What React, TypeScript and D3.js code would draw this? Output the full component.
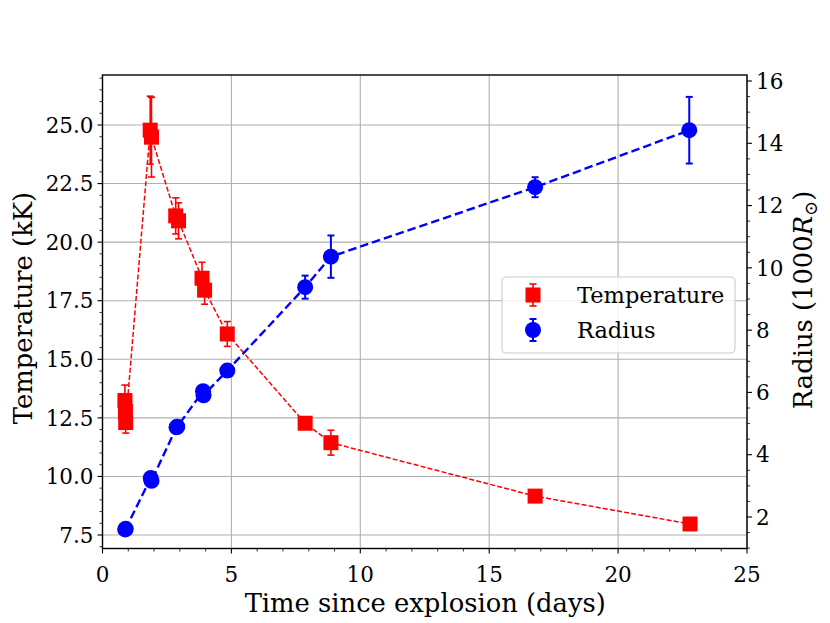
import React from 'react';
import * as d3 from 'd3';

const tempTimes = [0.87, 0.89, 0.9, 1.85, 1.9, 2.84, 2.95, 3.86, 3.96, 4.84, 7.86, 8.86, 16.78, 22.79];
const tempValues = [13.24, 12.77, 12.3, 24.78, 24.48, 21.12, 20.91, 18.46, 17.95, 16.08, 12.27, 11.44, 9.16, 7.97];
const tempErrors = [0.66, 0.35, 0.45, 1.45, 1.7, 0.77, 0.77, 0.68, 0.6, 0.53, 0.2, 0.53, 0.2, 0.25];

const radiusTimes = [0.88, 0.9, 1.87, 1.9, 2.87, 2.9, 3.9, 3.92, 4.84, 7.86, 8.86, 16.78, 22.76];
const radiusValues = [1.6, 1.62, 3.25, 3.16, 4.88, 4.9, 6.04, 5.91, 6.7, 9.38, 10.36, 12.59, 14.42];
const radiusErrors = [0.1, 0.1, 0.12, 0.12, 0.12, 0.12, 0.12, 0.12, 0.15, 0.37, 0.68, 0.32, 1.07];

const xTicks = [0, 5, 10, 15, 20, 25];
const leftTicks = [7.5, 10.0, 12.5, 15.0, 17.5, 20.0, 22.5, 25.0];
const rightTicks = [2, 4, 6, 8, 10, 12, 14, 16];

const FONT = 'DejaVu Serif';

export default function App() {
  const L = 102.5, R = 747, T = 75, B = 548.5;
  const x = d3.scaleLinear().domain([0, 25]).range([L, R]);
  const yT = d3.scaleLinear().domain([6.924, 27.134]).range([B, T]);
  const yR = d3.scaleLinear().domain([0.988, 16.193]).range([B, T]);

  const xMinor = d3.range(0, 25.001, 1).filter(v => !xTicks.includes(v));
  const lMinor = d3.range(7, 27.01, 0.5).filter(v => Math.abs((v / 2.5) - Math.round(v / 2.5)) > 1e-6);
  const rMinor = d3.range(1, 16.01, 0.5).filter(v => Math.abs(v / 2 - Math.round(v / 2)) > 1e-6);

  const tempLine = d3.line<number>().x((_, i) => x(tempTimes[i])).y((d) => yT(d));
  const radLine = d3.line<number>().x((_, i) => x(radiusTimes[i])).y((d) => yR(d));

  const red = '#ff0000';
  const blue = '#0000ff';
  const sq = 15;
  const cap = 3.5;
  const labelSize = 25.8;
  const tickSize = 21.5;

  return (
    <svg width={830} height={623} style={{ position: 'absolute', left: 0, top: 0, background: 'white' }} fontFamily={FONT}>
      <rect x={0} y={0} width={830} height={623} fill="white" />
      {/* grid */}
      <g stroke="#b0b0b0" strokeWidth={1.1}>
        {xTicks.map(v => <line key={'gx' + v} x1={x(v)} x2={x(v)} y1={T} y2={B} />)}
        {leftTicks.map(v => <line key={'gy' + v} x1={L} x2={R} y1={yT(v)} y2={yT(v)} />)}
      </g>
      {/* temperature */}
      <path d={tempLine(tempValues) || ''} fill="none" stroke={red} strokeWidth={1.5} strokeDasharray="5,2.2" />
      <g stroke={red} strokeWidth={1.6}>
        {tempValues.map((v, i) => {
          const cx = x(tempTimes[i]);
          const y1 = yT(v - tempErrors[i]);
          const y2 = yT(v + tempErrors[i]);
          return (
            <g key={'te' + i}>
              <line x1={cx} x2={cx} y1={y1} y2={y2} />
              <line x1={cx - cap} x2={cx + cap} y1={y1} y2={y1} />
              <line x1={cx - cap} x2={cx + cap} y1={y2} y2={y2} />
            </g>
          );
        })}
      </g>
      {tempValues.map((v, i) => (
        <rect key={'tm' + i} x={x(tempTimes[i]) - sq / 2} y={yT(v) - sq / 2} width={sq} height={sq} fill={red} />
      ))}
      {/* radius */}
      <path d={radLine(radiusValues) || ''} fill="none" stroke={blue} strokeWidth={2.4} strokeDasharray="8.5,4" />
      <g stroke={blue} strokeWidth={2}>
        {radiusValues.map((v, i) => {
          const cx = x(radiusTimes[i]);
          const y1 = yR(v - radiusErrors[i]);
          const y2 = yR(v + radiusErrors[i]);
          return (
            <g key={'re' + i}>
              <line x1={cx} x2={cx} y1={y1} y2={y2} />
              <line x1={cx - cap} x2={cx + cap} y1={y1} y2={y1} />
              <line x1={cx - cap} x2={cx + cap} y1={y2} y2={y2} />
            </g>
          );
        })}
      </g>
      {radiusValues.map((v, i) => (
        <circle key={'rm' + i} cx={x(radiusTimes[i])} cy={yR(v)} r={8} fill={blue} />
      ))}
      {/* spines */}
      <rect x={L} y={T} width={R - L} height={B - T} fill="none" stroke="black" strokeWidth={1.4} />
      {/* ticks */}
      <g stroke="black">
        {xTicks.map(v => <line key={'xt' + v} x1={x(v)} x2={x(v)} y1={B} y2={B + 5} strokeWidth={1.1} />)}
        {xMinor.map(v => <line key={'xm' + v} x1={x(v)} x2={x(v)} y1={B} y2={B + 3} strokeWidth={0.8} />)}
        {leftTicks.map(v => <line key={'lt' + v} x1={L - 5} x2={L} y1={yT(v)} y2={yT(v)} strokeWidth={1.1} />)}
        {lMinor.map(v => <line key={'lm' + v} x1={L - 3} x2={L} y1={yT(v)} y2={yT(v)} strokeWidth={0.8} />)}
        {rightTicks.map(v => <line key={'rt' + v} x1={R} x2={R + 5} y1={yR(v)} y2={yR(v)} strokeWidth={1.1} />)}
        {rMinor.map(v => <line key={'rm' + v} x1={R} x2={R + 3} y1={yR(v)} y2={yR(v)} strokeWidth={0.8} />)}
      </g>
      <g fontSize={tickSize} fill="black">
        {xTicks.map(v => <text key={'xl' + v} x={x(v)} y={B + 33} textAnchor="middle">{d3.format('d')(v)}</text>)}
        {leftTicks.map(v => <text key={'ll' + v} x={L - 9} y={yT(v)} dy="0.36em" textAnchor="end">{d3.format('.1f')(v)}</text>)}
        {rightTicks.map(v => <text key={'rl' + v} x={R + 9} y={yR(v)} dy="0.36em" textAnchor="start">{d3.format('d')(v)}</text>)}
      </g>
      <text x={(L + R) / 2 + 0.5} y={612} fontSize={labelSize} textAnchor="middle">Time since explosion (days)</text>
      <text transform={`translate(32,308) rotate(-90)`} fontSize={labelSize} textAnchor="middle">Temperature (kK)</text>
      <text transform={`translate(812,300) rotate(-90)`} fontSize={labelSize} textAnchor="middle">
        Radius (1000<tspan fontStyle="italic">R</tspan><tspan fontSize={18} dy={5}>⊙</tspan><tspan dy={-5}>)</tspan>
      </text>
      {/* legend */}
      <g>
        <rect x={502} y={277} width={233} height={76} rx={4} fill="white" fillOpacity={0.8} stroke="#cccccc" strokeWidth={1.1} />
        <g stroke={red} strokeWidth={1.6}>
          <line x1={533} x2={533} y1={284} y2={306} />
          <line x1={533 - cap} x2={533 + cap} y1={284} y2={284} />
          <line x1={533 - cap} x2={533 + cap} y1={306} y2={306} />
        </g>
        <rect x={533 - sq / 2} y={295 - sq / 2} width={sq} height={sq} fill={red} />
        <g stroke={blue} strokeWidth={2}>
          <line x1={533} x2={533} y1={319} y2={341} />
          <line x1={533 - cap} x2={533 + cap} y1={319} y2={319} />
          <line x1={533 - cap} x2={533 + cap} y1={341} y2={341} />
        </g>
        <circle cx={533} cy={330} r={8} fill={blue} />
        <text x={577} y={295} dy="0.36em" fontSize={22.5}>Temperature</text>
        <text x={577} y={330} dy="0.36em" fontSize={22.5}>Radius</text>
      </g>
    </svg>
  );
}
